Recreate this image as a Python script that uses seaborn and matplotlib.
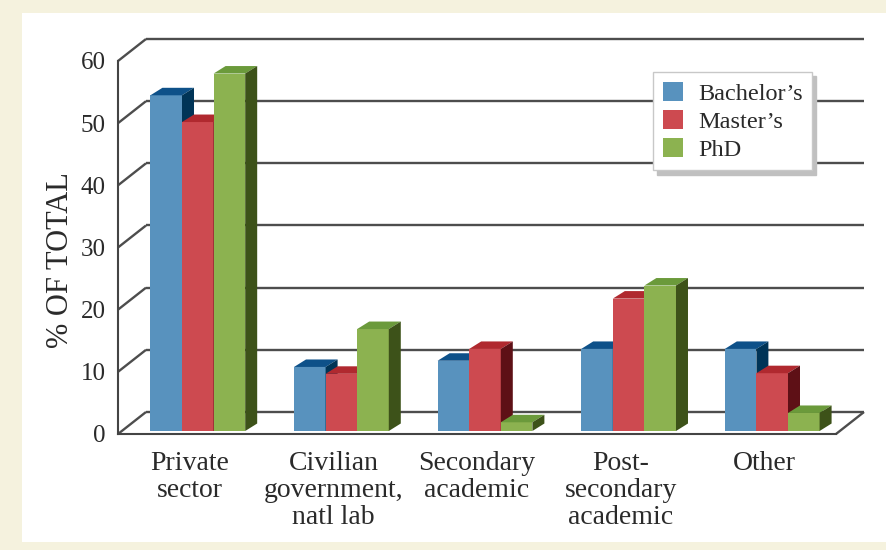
import matplotlib
matplotlib.use("Agg")
import matplotlib.pyplot as plt
from matplotlib.patches import Polygon, Rectangle
import seaborn as sns
import pandas as pd
import numpy as np

# data (percent of total)
sectors = ["Private\nsector", "Civilian\ngovernment,\nnatl lab", "Secondary\nacademic",
           "Post-\nsecondary\nacademic", "Other"]
degrees = ["Bachelor’s", "Master’s", "PhD"]
bachelors = [54.0, 10.3, 11.3, 13.2, 13.2]
masters = [49.7, 9.2, 13.2, 21.3, 9.3]
phd = [57.5, 16.4, 1.4, 23.4, 2.9]
yticks = [0, 10, 20, 30, 40, 50, 60]

front_colors = ["#5892be", "#cd4a50", "#8cb250"]
top_colors = ["#0e5189", "#b0292f", "#6b9a3b"]
side_colors = ["#003457", "#5e1016", "#3d5219"]

df = pd.DataFrame({
    "sector": sectors * 3,
    "degree": np.repeat(degrees, len(sectors)),
    "pct": bachelors + masters + phd,
})

sns.set_theme(style="white")
plt.rcParams["font.family"] = ["Liberation Serif", "DejaVu Serif"]

W, H = 886, 550
fig = plt.figure(figsize=(W / 100, H / 100), dpi=100, facecolor="#f5f2de")
fig.patches.append(Rectangle((22 / W, 8 / H), 1 - 22 / W, 529 / H,
                             transform=fig.transFigure, facecolor="white",
                             edgecolor="none", zorder=-10))

ax = fig.add_axes([118 / W, (H - 434) / H, (836 - 118) / W, (434 - 61) / H])
ax.set_facecolor("none")

sns.barplot(data=df, x="sector", y="pct", hue="degree", order=sectors,
            hue_order=degrees, palette=front_colors, width=0.66,
            saturation=1, linewidth=0, ax=ax)
ax.set_xlim(-0.5, 4.5)
ax.set_ylim(0, 60)

# pixel -> data conversions
px_x = 1 / ((836 - 118) / 5)
px_y = 1 / ((434 - 61) / 60)

# back wall, left wall and floor
wdx, wdy = 28 * px_x, 22 * px_y
line_kw = dict(color="#4d4d4d", lw=1.7, clip_on=False, zorder=1, solid_capstyle="butt")
for v in yticks:
    ax.plot([-0.5 + wdx, 4.5 + wdx], [v + wdy, v + wdy], **line_kw)
    ax.plot([-0.5, -0.5 + wdx], [v, v + wdy], **line_kw)
ax.plot([4.5, 4.5 + wdx], [0, wdy], **line_kw)

# 3d look for the bars
sx, sy = 8 * px_x, 3 * px_y
ddx, ddy = 12 * px_x, 7.5 * px_y
for i, cont in enumerate(ax.containers):
    for rect in cont:
        rect.set_x(rect.get_x() + sx)
        rect.set_y(sy)
        rect.set_zorder(3 + i * 0.1)
        x0 = rect.get_x()
        x1 = x0 + rect.get_width()
        y0 = rect.get_y()
        y1 = y0 + rect.get_height()
        top = Polygon([(x0, y1), (x1, y1), (x1 + ddx, y1 + ddy), (x0 + ddx, y1 + ddy)],
                      closed=True, facecolor=top_colors[i], edgecolor="none",
                      zorder=3 + i * 0.1, clip_on=False)
        side = Polygon([(x1, y0), (x1, y1), (x1 + ddx, y1 + ddy), (x1 + ddx, y0 + ddy)],
                       closed=True, facecolor=side_colors[i], edgecolor="none",
                       zorder=3 + i * 0.1, clip_on=False)
        ax.add_patch(top)
        ax.add_patch(side)

# axes
for s in ["top", "right"]:
    ax.spines[s].set_visible(False)
for s in ["left", "bottom"]:
    ax.spines[s].set_color("#444444")
    ax.spines[s].set_linewidth(1.5)
    ax.spines[s].set_zorder(5)

ax.set_yticks(yticks)
ax.set_xticks(range(len(sectors)))
ax.set_xticklabels(sectors, linespacing=1.12)
ax.set_xticks(np.arange(-0.5, 5, 1), minor=True)
ax.tick_params(axis="x", which="major", length=0, pad=12, labelsize=20, labelcolor="#2a2a2a")
ax.tick_params(axis="x", which="minor", length=8, width=1.5, color="#444444", direction="out")
ax.tick_params(axis="y", length=7, width=1.5, color="#444444", direction="out",
               pad=2, labelsize=18, labelcolor="#2a2a2a")
ax.set_xlabel("")
ax.set_ylabel("% OF TOTAL", fontsize=22, color="#2a2a2a")
ax.yaxis.set_label_coords((75 - 118) / (836 - 118), (434 - 260) / (434 - 61))

sns.move_legend(ax, "upper left", bbox_to_anchor=(653 / W, 1 - 72 / H),
                bbox_transform=fig.transFigure, title=None, frameon=True,
                fancybox=False, edgecolor="#c8c8c8", framealpha=1,
                fontsize=17.5, handlelength=0.85, handleheight=0.85,
                handletextpad=0.6, labelspacing=0.2, borderpad=0.4,
                borderaxespad=0,
                shadow={"ox": 3, "oy": -3, "color": "#c0c0c0", "alpha": 1})
leg = ax.get_legend()
leg.set_zorder(10)
for t in leg.get_texts():
    t.set_color("#2a2a2a")

fig.savefig("out.png", dpi=100, facecolor=fig.get_facecolor())
